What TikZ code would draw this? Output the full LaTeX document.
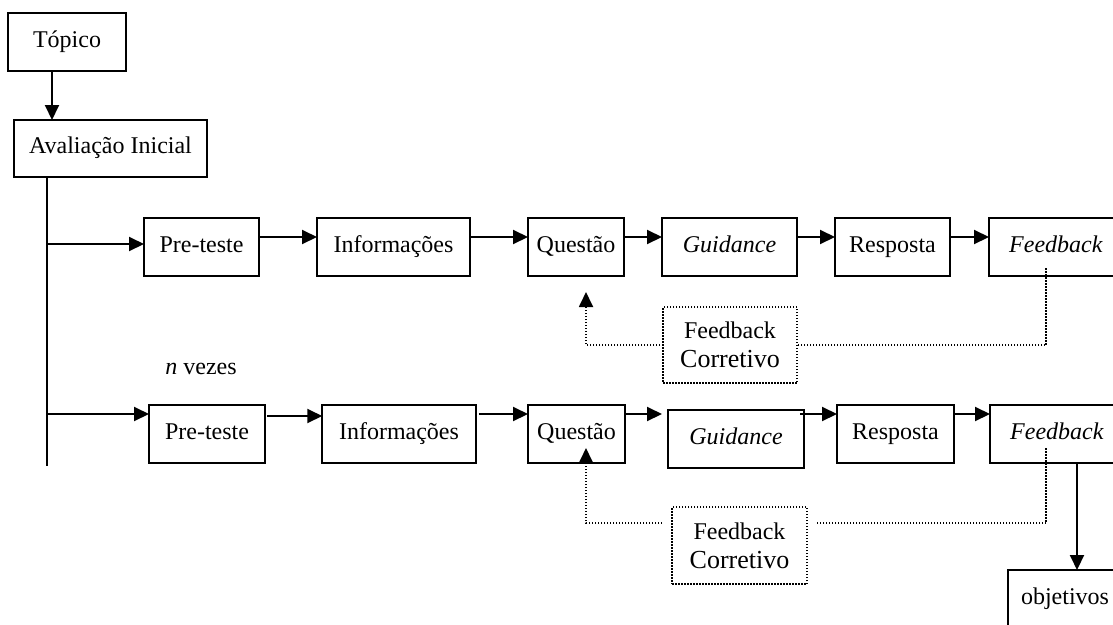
\documentclass[tikz,border=0pt]{standalone}
\usepackage{fontspec}
\setmainfont{Liberation Serif}
\usetikzlibrary{arrows.meta,calc}
\begin{document}
\begin{tikzpicture}[x=1pt,y=-1pt,
  box/.style={draw, line width=2pt, inner sep=0pt, outer sep=0pt,
    font=\fontsize{24}{28}\selectfont, minimum height=58pt,
    text height=16pt, text depth=6pt},
  dotbox/.style={draw, line width=1.8pt, dash pattern=on 1.5pt off 1.5pt,
    inner sep=0pt, outer sep=0pt, align=center,
    font=\fontsize{24}{29}\selectfont, minimum height=76pt},
  flow/.style={line width=2pt, -{Triangle[length=15pt,width=14pt]}},
  loop/.style={line width=1.8pt, dash pattern=on 1.5pt off 1.5pt},
  loopin/.style={loop, -{Triangle[length=15pt,width=14pt]}},
  wire/.style={line width=2pt},
  label/.style={font=\fontsize{24}{28}\selectfont, inner sep=0pt}
]
\clip (0,0) rectangle (1113,624);
\fill[white] (0,0) rectangle (1113,624);

% top of the chart
\node[box, minimum width=118pt] (topico) at (67,42) {Tópico};
\node[box, minimum width=193pt, minimum height=57pt] (aval) at (110.5,148.5) {Avaliação Inicial};
\coordinate (t1) at ($(topico.south)+(-15pt,0)$);
\draw[flow] (t1) -- (t1 |- aval.north);

% trunk
\coordinate (trunkend) at (47,466);
\draw[wire] (aval.south -| trunkend) -- (trunkend);

% first sequence
\node[box, minimum width=115pt] (pre1) at (201.5,247) {Pre-teste};
\node[box, minimum width=153pt] (info1) at (393.5,247) {Informações};
\node[box, minimum width=96pt] (ques1) at (576,247) {Questão};
\node[box, minimum width=135pt] (guid1) at (729.5,247) {\textit{Guidance}};
\node[box, minimum width=115pt] (resp1) at (892.5,247) {Resposta};
\node[box, minimum width=134pt] (feed1) at (1056,247) {\textit{Feedback}};

\coordinate (a1) at ($(pre1.west)+(0,3pt)$);
\draw[flow] (a1 -| trunkend) -- (a1);
\draw[flow] ($(pre1.east)+(0,10pt)$) -- ($(info1.west)+(0,10pt)$);
\draw[flow] ($(info1.east)+(0,10pt)$) -- ($(ques1.west)+(0,10pt)$);
\draw[flow] ($(ques1.east)+(0,10pt)$) -- ($(guid1.west)+(0,10pt)$);
\draw[flow] ($(guid1.east)+(0,10pt)$) -- ($(resp1.west)+(0,10pt)$);
\draw[flow] ($(resp1.east)+(0,10pt)$) -- ($(feed1.west)+(0,10pt)$);

% first corrective loop
\node[dotbox, minimum width=134pt] (fc1) at (730,345) {Feedback\\\fontsize{26}{29}\selectfont Corretivo};
\coordinate (l1a) at ($(feed1.south)+(-10pt,8pt)$);
\draw[loop] (l1a) -- (l1a |- fc1.east) -- (fc1.east);
\coordinate (l1b) at ($(ques1.south)+(10pt,-16pt)$);
\draw[loopin] (fc1.west) -- (fc1.west -| l1b) -- (l1b);

\node[label] (nvezes) at (201,369) {\textit{n} vezes};

% second sequence
\node[box, minimum width=116pt] (pre2) at (207,434) {Pre-teste};
\node[box, minimum width=153.5pt] (info2) at (399,434) {Informações};
\node[box, minimum width=97pt] (ques2) at (576.5,434) {Questão};
\node[box, minimum width=136pt] (guid2) at (736,439) {\textit{Guidance}};
\node[box, minimum width=117pt] (resp2) at (895.5,434) {Resposta};
\node[box, minimum width=134pt] (feed2) at (1057,434) {\textit{Feedback}};

\coordinate (a2) at ($(pre2.west)+(0,20pt)$);
\draw[flow] (a2 -| trunkend) -- (a2);
\draw[flow] ($(pre2.east)+(2pt,18pt)$) -- ($(info2.west)+(0,18pt)$);
\draw[flow] ($(info2.east)+(3pt,20pt)$) -- ($(ques2.west)+(0,20pt)$);
\draw[flow] ($(ques2.east)+(0,20pt)$) -- ($(guid2.west |- ques2.east)+(-6pt,20pt)$);
\draw[flow] ($(guid2.east |- resp2.west)+(-4pt,20pt)$) -- ($(resp2.west)+(0,20pt)$);
\draw[flow] ($(resp2.east)+(0,20pt)$) -- ($(feed2.west)+(0,20pt)$);

% second corrective loop
\node[dotbox, minimum width=135pt, minimum height=77pt] (fc2) at (739.5,545.5) {Feedback\\\fontsize{26}{29}\selectfont Corretivo};
\coordinate (l2a) at ($(feed2.south)+(-11pt,15pt)$);
\coordinate (l2r) at ($(fc2.east)+(9pt,22.5pt)$);
\draw[loop] (l2a) -- (l2a |- l2r) -- (l2r);
\coordinate (l2l) at ($(fc2.west)+(-10pt,22.5pt)$);
\coordinate (l2b) at ($(ques2.south)+(9.5pt,15pt)$);
\draw[loopin] (l2l) -- (l2l -| l2b) -- (l2b);

% exit
\node[box, minimum width=114pt] (obj) at (1065,599) {objetivos};
\coordinate (o1) at ($(feed2.south)+(20pt,0)$);
\draw[flow] (o1) -- (o1 |- obj.north);
\end{tikzpicture}
\end{document}
